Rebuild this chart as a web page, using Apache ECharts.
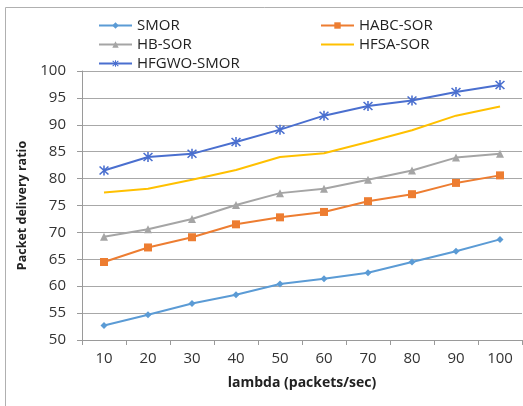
<!DOCTYPE html>
<html><head><meta charset="utf-8">
<script src="https://cdn.jsdelivr.net/npm/echarts@6/dist/echarts.min.js"></script>
<style>html,body{margin:0;padding:0;background:#fff}#c{width:523px;height:406px}</style>
</head><body><div id="c"></div>
<script>
const categories = ['10','20','30','40','50','60','70','80','90','100'];
const smor = [52.7, 54.7, 56.8, 58.4, 60.4, 61.4, 62.5, 64.5, 66.5, 68.7];
const habcSor = [64.5, 67.2, 69.1, 71.5, 72.8, 73.8, 75.8, 77.1, 79.2, 80.6];
const hbSor = [69.2, 70.6, 72.5, 75.1, 77.3, 78.1, 79.8, 81.5, 83.9, 84.6];
const hfsaSor = [77.4, 78.1, 79.8, 81.6, 84.0, 84.7, 86.8, 89.0, 91.7, 93.4];
const hfgwoSmor = [81.5, 84.0, 84.6, 86.8, 89.1, 91.7, 93.5, 94.5, 96.1, 97.4];

const FONT = 'Open Sans';
const star = 'path://M-0.7,-5L0.7,-5L0.7,5L-0.7,5Z' +
  'M-3.5,-4.5L4.5,3.5L3.5,4.5L-4.5,-3.5Z' +
  'M4.5,-3.5L-3.5,4.5L-4.5,3.5L3.5,-4.5Z';
function mk(name, data, color, symbol, size, extra) {
  return Object.assign({
    name, type: 'line', data, symbol, symbolSize: size,
    lineStyle: { color, width: 2 },
    itemStyle: { color },
    emphasis: { disabled: true },
    animation: false
  }, extra || {});
}
const chart = echarts.init(document.getElementById('c'));
const legText = { fontFamily: FONT, fontSize: 15, color: '#222' };
chart.setOption({
  backgroundColor: '#fff',
  animation: false,
  graphic: [{ type: 'rect', shape: { x: 5.5, y: 7.5, width: 600, height: 600 }, style: { fill: 'none', stroke: '#b0b0b0', lineWidth: 1 }, z: -1 }],
  legend: [
    { data: ['SMOR','HB-SOR','HFGWO-SMOR'], orient: 'vertical', left: 98, top: 18, itemWidth: 33, itemHeight: 8, itemGap: 4, textStyle: legText, padding: 0 },
    { data: ['HABC-SOR', { name: 'HFSA-SOR', itemStyle: { color: 'transparent', borderWidth: 0 } }], orient: 'vertical', left: 320, top: 18, itemWidth: 33, itemHeight: 8, itemGap: 4, textStyle: legText, padding: 0 }
  ],
  grid: { left: 82, right: 1, top: 71, bottom: 66 },
  xAxis: {
    type: 'category', data: categories, boundaryGap: true,
    name: 'lambda (packets/sec)', nameLocation: 'middle', nameGap: 36,
    nameTextStyle: { fontFamily: FONT, fontSize: 14, fontWeight: 'bold', color: '#222' },
    axisLine: { lineStyle: { color: '#9a9a9a' } },
    axisTick: { show: true, length: 5, lineStyle: { color: '#9a9a9a' } },
    axisLabel: { fontFamily: FONT, fontSize: 15, color: '#333', margin: 11 }
  },
  yAxis: {
    type: 'value', min: 50, max: 100, interval: 5,
    name: 'Packet delivery ratio', nameLocation: 'middle', nameGap: 43, nameRotate: 90,
    nameTextStyle: { fontFamily: FONT, fontSize: 12.5, fontWeight: 'bold', color: '#222' },
    axisLine: { show: true, lineStyle: { color: '#9a9a9a' } },
    axisTick: { show: true, length: 5, lineStyle: { color: '#9a9a9a' } },
    axisLabel: { fontFamily: FONT, fontSize: 15, color: '#333', margin: 16 },
    splitLine: { lineStyle: { color: '#a8a8a8', width: 1 } }
  },
  series: [
    mk('SMOR', smor, '#5B9BD5', 'diamond', 7),
    mk('HABC-SOR', habcSor, '#ED7D31', 'rect', 8),
    mk('HB-SOR', hbSor, '#A5A5A5', 'triangle', 8),
    mk('HFSA-SOR', hfsaSor, '#FFC000', 'none', 0),
    mk('HFGWO-SMOR', hfgwoSmor, '#4A6FCF', star, 10)
  ]
});
</script></body></html>
